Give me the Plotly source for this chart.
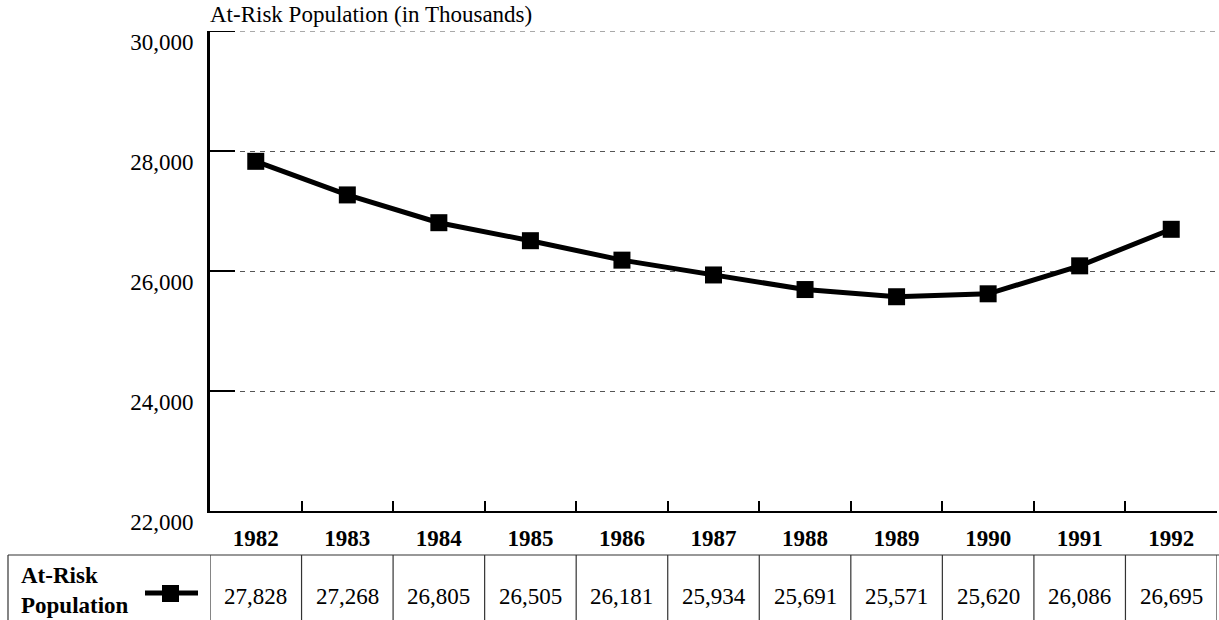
import plotly.graph_objects as go

years = ["1982", "1983", "1984", "1985", "1986", "1987", "1988", "1989", "1990", "1991", "1992"]
at_risk = [27828, 27268, 26805, 26505, 26181, 25934, 25691, 25571, 25620, 26086, 26695]
y_ticks = [22000, 24000, 26000, 28000, 30000]
series_name = "At-Risk<br>Population"
y_title = "At-Risk Population (in Thousands)"

FONT = "Liberation Serif"
W, H = 1219, 620
L, R, T, B = 210, 2, 31, 109
PW, PH = W - L - R, H - T - B


def px_x(px):
    return (px - L) / PW


def px_y(py):
    return (H - B - py) / PH


def f(size=23, bold=False):
    return dict(family=FONT, size=size, color="black", weight="bold" if bold else "normal")


fig = go.Figure(
    go.Scatter(
        x=years,
        y=at_risk,
        mode="lines+markers",
        line=dict(color="black", width=5),
        marker=dict(symbol="square", size=17, color="black"),
        showlegend=False,
        cliponaxis=False,
    )
)

fig.update_layout(
    width=W,
    height=H,
    margin=dict(l=L, r=R, t=T, b=B, autoexpand=False),
    paper_bgcolor="white",
    plot_bgcolor="white",
    font=f(),
    xaxis=dict(
        type="category",
        range=[-0.5, len(years) - 0.5],
        tickson="boundaries",
        ticks="inside",
        ticklen=10,
        tickwidth=2,
        tickcolor="black",
        showline=True,
        linecolor="black",
        linewidth=2,
        showgrid=False,
        automargin=False,
        tickfont=f(bold=True),
        ticklabelstandoff=5,
    ),
    yaxis=dict(
        range=[y_ticks[0], y_ticks[-1]],
        tickvals=y_ticks,
        tickformat=",",
        ticks="inside",
        ticklen=25,
        tickwidth=2,
        tickcolor="black",
        showline=True,
        linecolor="black",
        linewidth=3,
        showgrid=True,
        gridcolor="#555555",
        gridwidth=1,
        griddash="5px,5px",
        zeroline=False,
        automargin=False,
        tickfont=f(),
        ticklabelshift=11,
        ticklabelstandoff=9,
    ),
)

# top gridline sits on the plot edge, plotly skips it
fig.add_shape(type="line", xref="paper", yref="y", x0=0, x1=1, y0=y_ticks[-1], y1=y_ticks[-1],
              line=dict(color="#555555", width=1, dash="5px,5px"), layer="below")
fig.add_shape(type="line", xref="paper", yref="y", x0=0, x1=25 / PW, y0=y_ticks[-1], y1=y_ticks[-1],
              line=dict(color="black", width=2))

fig.add_annotation(
    x=0, y=1, xref="paper", yref="paper", xanchor="left", yanchor="bottom",
    text=y_title, showarrow=False, yshift=2, xshift=-2, font=f(),
)

# table below the chart
top = px_y(555)
bottom = px_y(625)
line_style = dict(color="#333333", width=1.2)
fig.add_shape(type="line", xref="paper", yref="paper", x0=px_x(8), x1=px_x(1219),
              y0=top, y1=top, line=line_style)
fig.add_shape(type="line", xref="paper", yref="paper", x0=px_x(8), x1=px_x(8),
              y0=top, y1=bottom, line=line_style)
for k in range(len(years) + 1):
    fig.add_shape(type="line", xref="x", yref="paper", x0=k - 0.5, x1=k - 0.5,
                  y0=top, y1=bottom, line=line_style)

fig.add_annotation(
    x=px_x(19), y=px_y(590), xref="paper", yref="paper", xanchor="left", yanchor="middle",
    text=series_name, showarrow=False, align="left", font=f(bold=True),
)
# legend key
fig.add_shape(type="line", xref="paper", yref="paper", x0=px_x(145), x1=px_x(198),
              y0=px_y(593), y1=px_y(593), line=dict(color="black", width=5))
fig.add_shape(type="rect", xref="paper", yref="paper", x0=px_x(162), x1=px_x(179),
              y0=px_y(585), y1=px_y(602), fillcolor="black", line=dict(width=0))

for i, v in enumerate(at_risk):
    fig.add_annotation(x=i, y=px_y(596), xref="x", yref="paper", text=f"{v:,}",
                       showarrow=False, yanchor="middle", font=f())

fig.write_html("out.html", config={"displayModeBar": False},
               post_script="document.body.style.margin='0';")
